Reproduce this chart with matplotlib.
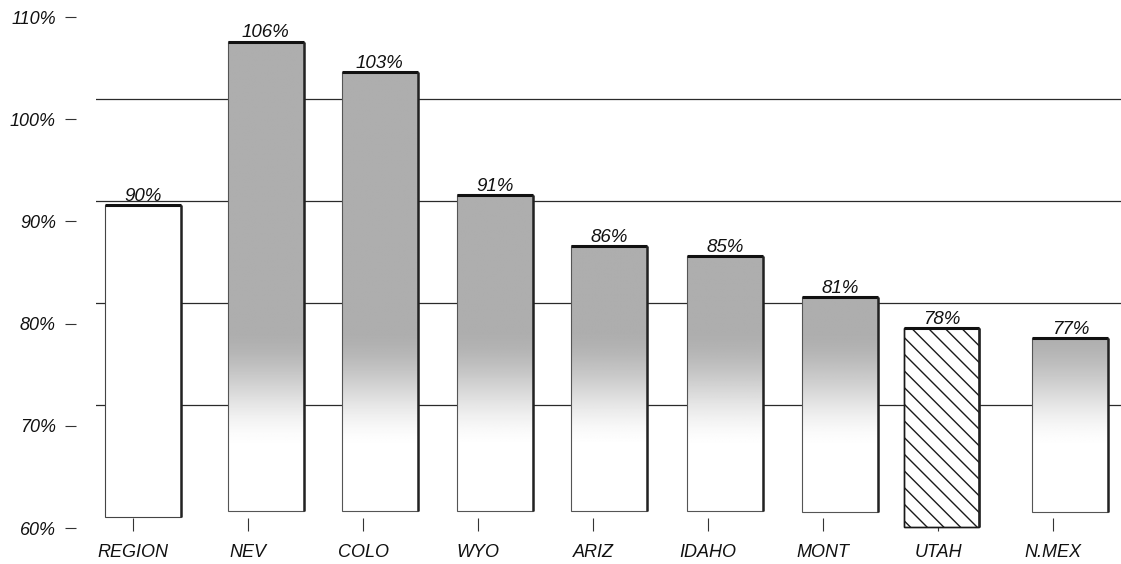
import numpy as np
import matplotlib
matplotlib.use("Agg")
import matplotlib.pyplot as plt
from matplotlib.patches import Rectangle

# ---- data -------------------------------------------------------------
categories = ["REGION", "NEV", "COLO", "WYO", "ARIZ", "IDAHO", "MONT", "UTAH", "N.MEX"]
values = [90, 106, 103, 91, 86, 85, 81, 78, 77]
y_tick_values = [60, 70, 80, 90, 100, 110]
y_tick_labels = ["60%", "70%", "80%", "90%", "100%", "110%"]
grid_values = [70, 80, 90, 100]

# ---- styling / layout ---------------------------------------------------
fill_kind = ["plain", "shaded", "shaded", "shaded", "shaded", "shaded", "shaded", "hatched", "shaded"]
bar_shift = [0.09, 0.155, 0.145, 0.145, 0.14, 0.145, 0.15, 0.03, 0.15]
bar_base = [59.5, 60.05, 60.05, 60.05, 60.05, 60.05, 60.0, 58.55, 60.0]
bar_width = 0.66
tick_shift = -1.6      # scale labels sit slightly below the level they name
grid_shift = 0.4

plt.rcParams["font.family"] = ["Liberation Sans", "DejaVu Sans"]
plt.rcParams["font.style"] = "italic"
plt.rcParams["hatch.linewidth"] = 1.0

W, H = 1121, 564
fig = plt.figure(figsize=(W / 100, H / 100), dpi=100)
ax = fig.add_axes([96 / W, 33 / H, 1025 / W, 521 / H])
XLIM = (-0.3217, 8.591)
YLIM = (58.11, 109.09)

# horizontal rules behind the bars
for g in grid_values:
    ax.axhline(g + grid_shift, color="#2a2a2a", lw=0.9, zorder=1)


def shade(y):
    """Grey level of the bar fill at data height y (dark above, fading to white low down)."""
    t = np.clip((y - 66.0) / (78.0 - 66.0), 0, 1)
    t = t * t * (3 - 2 * t)
    return 1.0 - 0.32 * t


for i, (v, kind) in enumerate(zip(values, fill_kind)):
    xc = i + bar_shift[i]
    x0 = xc - bar_width / 2
    b = bar_base[i]
    if kind == "shaded":
        ys = np.linspace(b, v, 300)
        img = shade(ys)[:, None] * np.ones((1, 2))
        ax.imshow(img, extent=[x0, x0 + bar_width, b, v], origin="lower",
                  cmap="gray", vmin=0, vmax=1, aspect="auto", zorder=2,
                  interpolation="bilinear")
        ax.add_patch(Rectangle((x0, b), bar_width, v - b, fill=False,
                               edgecolor="#555555", lw=0.8, zorder=3))
    elif kind == "hatched":
        ax.add_patch(Rectangle((x0, b), bar_width, v - b, facecolor="white",
                               edgecolor="#1a1a1a", hatch="\\\\", lw=1.0, zorder=2))
        ax.add_patch(Rectangle((x0, b), bar_width, v - b, fill=False,
                               edgecolor="#1a1a1a", lw=1.0, zorder=3))
    else:
        ax.add_patch(Rectangle((x0, b), bar_width, v - b, facecolor="white",
                               edgecolor="#444444", lw=0.8, zorder=2))
    # heavier top and right edges
    ax.plot([x0, x0 + bar_width], [v, v], color="#111111", lw=2.2,
            solid_capstyle="butt", zorder=4)
    ax.plot([x0 + bar_width, x0 + bar_width], [b, v], color="#222222", lw=1.8,
            solid_capstyle="butt", zorder=4)
    ax.annotate(f"{v}%", (xc, v), xytext=(0, 3.0), textcoords="offset points",
                ha="center", va="baseline", fontsize=13.5, color="#111111")

ax.set_xlim(*XLIM)
ax.set_ylim(*YLIM)

for s in ax.spines.values():
    s.set_visible(False)
ax.spines["left"].set_position(("outward", 14.4))

ax.set_xticks(range(len(categories)))
ax.set_xticklabels(categories, fontsize=13)
ax.tick_params(axis="x", direction="in", length=9.4, width=0.8, color="#333333",
               pad=9.5, labelcolor="#111111")

ax.set_yticks([t + tick_shift for t in y_tick_values])
ax.set_yticklabels(y_tick_labels, fontsize=13)
ax.tick_params(axis="y", direction="out", length=7.9, width=0.8, color="#333333",
               pad=6.5, labelcolor="#111111")

fig.savefig("out.png", dpi=100, facecolor="white")
